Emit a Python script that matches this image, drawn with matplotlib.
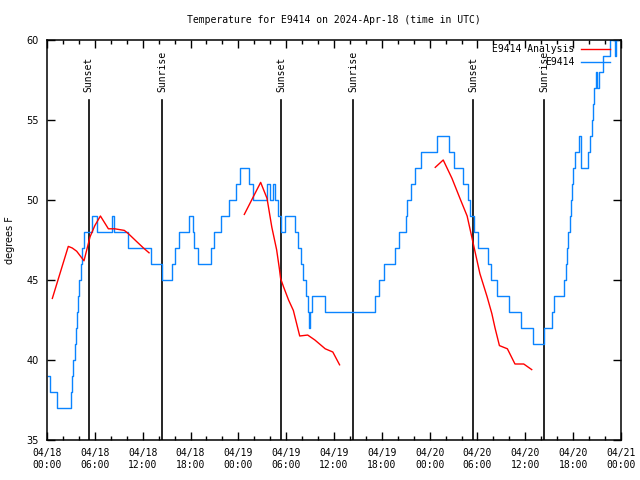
import matplotlib
matplotlib.use('Agg')
import matplotlib.pyplot as plt
from matplotlib.ticker import MultipleLocator, FixedLocator

# hours since 2024-04-18 00:00 UTC
obs_hours = [0.1, 0.35, 1.3, 3.0, 3.1, 3.3, 3.45, 3.6, 3.75, 3.9, 4.05, 4.25, 4.45, 4.7,
             5.65, 6.3, 8.15, 8.35, 10.15, 13.1, 14.4, 15.65, 16.0, 16.6, 17.8, 18.35,
             18.45, 18.9, 20.6, 20.9, 21.8, 22.85, 23.7, 24.2, 25.3, 25.85, 27.6, 27.95,
             28.4, 28.6, 28.95, 29.35, 29.8, 31.05, 31.5, 31.85, 32.15, 32.45, 32.7,
             32.85, 33.0, 33.2, 34.85, 41.1, 41.6, 42.3, 43.6, 44.2, 45.0, 45.2, 45.6,
             46.1, 46.9, 48.9, 50.4, 51.1, 52.2, 52.8, 53.1, 53.6, 54.1, 55.3, 55.7,
             56.4, 57.9, 59.4, 60.95, 62.4, 63.35, 63.55, 64.85, 65.05, 65.25, 65.4,
             65.55, 65.7, 65.85, 66.0, 66.2, 66.75, 66.95, 67.9, 68.1, 68.3, 68.45,
             68.65, 68.9, 69.05, 69.3, 69.75, 70.6, 71.2, 71.4, 71.6]
obs_temps = [39, 38, 37, 38, 39, 40, 41, 42, 43, 44, 45, 46, 47, 48,
             49, 48, 49, 48, 47, 46, 45, 46, 47, 48, 49, 48,
             47, 46, 47, 48, 49, 50, 51, 52, 51, 50, 51, 50,
             51, 50, 49, 48, 49, 48, 47, 46, 45, 44, 43,
             42, 43, 44, 43, 44, 45, 46, 47, 48, 49, 50, 51,
             52, 53, 54, 53, 52, 51, 50, 49, 48, 47, 46, 45,
             44, 43, 42, 41, 42, 43, 44, 45, 46, 47, 48,
             49, 50, 51, 52, 53, 54, 52, 53, 54, 55, 56,
             57, 58, 57, 58, 59, 60, 59, 60, 60]

ana1_hours = [0.67, 2.67, 3.17, 3.72, 4.64, 5.4, 6.0, 6.7, 7.7, 8.5, 9.7, 10.2, 11.25, 12.1, 12.8]
ana1_temps = [43.85, 47.1, 47.0, 46.8, 46.2, 47.7, 48.4, 49.0, 48.2, 48.2, 48.1, 47.9, 47.4, 47.0, 46.7]
ana2_hours = [24.75, 26.8, 27.6, 28.2, 28.8, 29.15, 29.3, 29.65, 30.3, 30.9, 31.3, 31.7,
              32.7, 33.6, 34.9, 35.85, 36.7]
ana2_temps = [49.1, 51.1, 50.1, 48.3, 46.9, 45.7, 45.1, 44.6, 43.75, 43.1, 42.3, 41.5,
              41.56, 41.25, 40.7, 40.5, 39.7]
ana3_hours = [48.7, 49.7, 50.8, 51.8, 52.7, 53.5, 54.3, 55.2, 55.8, 56.2, 56.75, 57.75,
              58.7, 59.8, 60.8]
ana3_temps = [52.04, 52.5, 51.35, 50.1, 49.0, 47.2, 45.4, 43.96, 42.9, 42.0, 40.9, 40.7,
              39.75, 39.75, 39.4]

sun_hours = [5.23, 14.47, 29.4, 38.43, 53.49, 62.4]
sun_labels = ['Sunset', 'Sunrise', 'Sunset', 'Sunrise', 'Sunset', 'Sunrise']

tick_labels = ['04/18\n00:00', '04/18\n06:00', '04/18\n12:00', '04/18\n18:00',
               '04/19\n00:00', '04/19\n06:00', '04/19\n12:00', '04/19\n18:00',
               '04/20\n00:00', '04/20\n06:00', '04/20\n12:00', '04/20\n18:00',
               '04/21\n00:00']

mono = 'DejaVu Sans Mono'
fig = plt.figure(figsize=(6.4, 4.8), dpi=100)
ax = fig.add_axes([47 / 640, 40 / 480, 574 / 640, 400 / 480])

for t, lab in zip(sun_hours, sun_labels):
    ax.axvline(t, ymin=0, ymax=(56.25 - 35) / 25, color='black', lw=1.2, zorder=1)
    ax.text(t, 56.75, lab, rotation=90, ha='center', va='bottom',
            fontsize=7, family=mono)

ax.plot(ana1_hours, ana1_temps, color='#ff0000', lw=1.0, label='E9414 Analysis', zorder=3)
ax.plot(ana2_hours, ana2_temps, color='#ff0000', lw=1.0, zorder=3)
ax.plot(ana3_hours, ana3_temps, color='#ff0000', lw=1.0, zorder=3)
ax.plot(obs_hours, obs_temps, color='#0a84ff', lw=1.0, drawstyle='steps-post',
        label='E9414', zorder=2)

ax.set_xlim(0, 72)
ax.set_ylim(35, 60)
ax.xaxis.set_major_locator(FixedLocator(range(0, 73, 6)))
ax.xaxis.set_minor_locator(MultipleLocator(2))
ax.set_xticklabels(tick_labels, family=mono, fontsize=7)
ax.yaxis.set_major_locator(MultipleLocator(5))
for lab in ax.get_yticklabels():
    lab.set_fontsize(7)
ax.tick_params(which='both', direction='in', top=True, right=True, width=1)
ax.tick_params(which='major', length=6, pad=6)
ax.tick_params(which='minor', length=3)
for s in ax.spines.values():
    s.set_linewidth(1.1)

ax.set_ylabel('degrees F', fontsize=7, labelpad=8)
ax.set_title('Temperature for E9414 on 2024-Apr-18 (time in UTC)', family=mono,
             fontsize=7, pad=12)

leg = ax.legend(loc='upper right', bbox_to_anchor=(0.981, 0.99), frameon=False,
                markerfirst=False, prop={'family': mono, 'size': 7},
                handlelength=3.0, handletextpad=0.7, labelspacing=0.35,
                borderpad=0, borderaxespad=0)
for t in leg.get_texts():
    t.set_ha('right')

fig.savefig('out.png', dpi=100)
